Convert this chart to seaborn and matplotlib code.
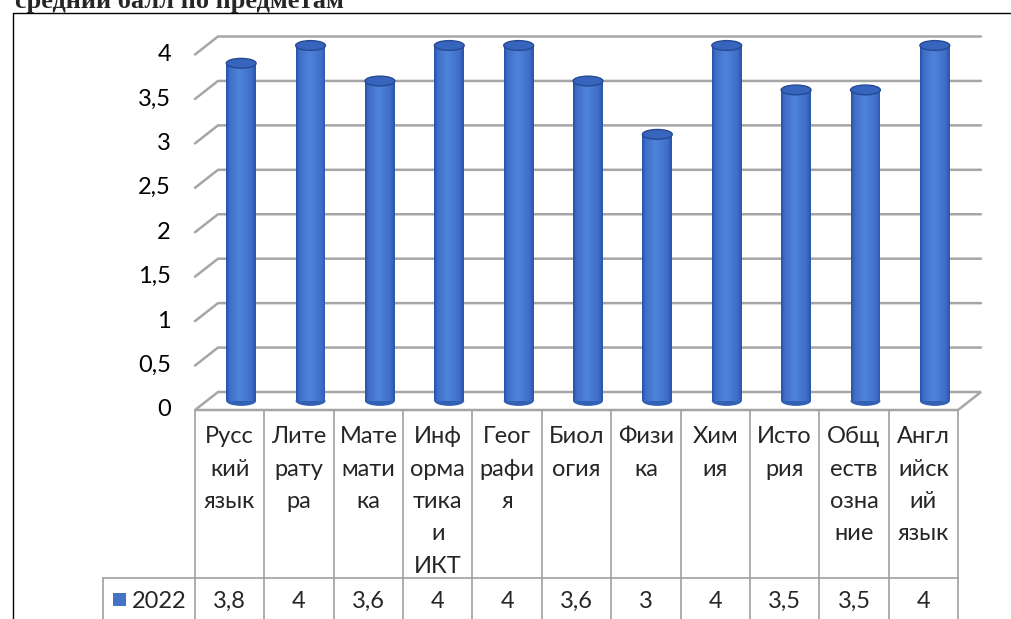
import numpy as np
import matplotlib
matplotlib.use("Agg")
import matplotlib.pyplot as plt
import seaborn as sns
from matplotlib.patches import Ellipse, Rectangle, Polygon
from matplotlib.transforms import ScaledTranslation
from matplotlib.colors import LinearSegmentedColormap

# ---------------------------------------------------------------------
# data
# ---------------------------------------------------------------------
subjects = ["Русский язык", "Литература", "Математика", "Информатика и ИКТ",
            "География", "Биология", "Физика", "Химия", "История",
            "Обществознание", "Английский язык"]
subject_lines = [["Русс", "кий", "язык"], ["Лите", "рату", "ра"],
                 ["Мате", "мати", "ка"], ["Инф", "орма", "тика", "и", "ИКТ"],
                 ["Геог", "рафи", "я"], ["Биол", "огия"], ["Физи", "ка"],
                 ["Хим", "ия"], ["Исто", "рия"], ["Общ", "еств", "озна", "ние"],
                 ["Англ", "ийск", "ий", "язык"]]
scores_2022 = [3.8, 4, 3.6, 4, 4, 3.6, 3, 4, 3.5, 3.5, 4]
y_ticks = [0, 0.5, 1, 1.5, 2, 2.5, 3, 3.5, 4]
series_name = "2022"
title = "средний балл по предметам"

W, H = 1011, 619
sns.set_theme(style="white")
plt.rcParams['font.family'] = ['Lato', 'DejaVu Sans']
FS = 17

fig = plt.figure(figsize=(W / 100, H / 100), dpi=100)
fig.patch.set_facecolor("white")

# overlay in pixel coordinates for frame, table, labels
ov = fig.add_axes([0, 0, 1, 1], zorder=0)
ov.set_xlim(0, W)
ov.set_ylim(H, 0)
ov.axis("off")

# main (mid-depth) plotting axes
left_px, right_px, y0_px, y4_px = 206.5, 969.5, 401, 45.5
ax = fig.add_axes([left_px / W, 1 - y0_px / H, (right_px - left_px) / W, (y0_px - y4_px) / H],
                  zorder=2)
ax.patch.set_alpha(0)

sns.barplot(x=subjects, y=scores_2022, ax=ax, width=0.43, color="#4472c4",
            saturation=1, zorder=3)
ax.set_xlim(-0.5, len(subjects) - 0.5)
ax.set_ylim(0, 4)
ax.axis("off")

dx, dy = 11.5, 9.0   # depth offset (px) from mid plane to back plane
back = ax.transData + ScaledTranslation(dx / 100, dy / 100, fig.dpi_scale_trans)
front = ax.transData + ScaledTranslation(-dx / 100, -dy / 100, fig.dpi_scale_trans)


def to_px(tr, x, y):
    px, py = tr.transform((x, y))
    return px, H - py


grid_c = "#a6a6a6"
xl, xr = -0.5, len(subjects) - 0.5

# floor
fl = [to_px(front, xl, 0), to_px(front, xr, 0), to_px(back, xr, 0), to_px(back, xl, 0)]
ov.add_patch(Polygon(fl, closed=True, facecolor="white", edgecolor=grid_c, lw=1.8, zorder=1))

# back wall grid lines + left wall diagonals
for t in y_ticks[1:]:
    bl, br, fL = to_px(back, xl, t), to_px(back, xr, t), to_px(front, xl, t)
    ov.plot([fL[0], bl[0], br[0]], [fL[1], bl[1], br[1]], color=grid_c, lw=1.8, zorder=1)

# y tick labels (front plane)
for t in y_ticks:
    px, py = to_px(front, xl, t)
    lab = f"{t:g}".replace(".", ",")
    ov.text(171, py, lab, ha="right", va="center", fontsize=FS, color="black", zorder=5)

# cylinders: gradient body + elliptic caps
grad = np.linspace(0, 1, 256)
shade = np.interp(grad, [0, 0.12, 0.45, 0.85, 1], [0.1, 0.5, 1.0, 0.5, 0.15])
cyl_cmap = LinearSegmentedColormap.from_list("cyl", ["#22489a", "#3f6ec8", "#4f84da"])
cap_h = 0.11
for p in ax.patches[:]:
    x, w, h = p.get_x(), p.get_width(), p.get_height()
    p.set_facecolor("none")
    p.set_edgecolor("none")
    im = ax.imshow(shade[np.newaxis, :], cmap=cyl_cmap, vmin=0, vmax=1,
                   extent=(x, x + w, -cap_h / 2, h), aspect="auto", zorder=3,
                   interpolation="bicubic")
    body = Polygon([(x, h), (x + w, h), (x + w, 0), (x, 0)], closed=True,
                   transform=ax.transData)
    im.set_clip_path(body)
    # rounded bottom
    ax.add_patch(Ellipse((x + w / 2, 0), w, cap_h, facecolor="#3160b4",
                         edgecolor="none", zorder=2.95, clip_on=False))
    # top cap
    ax.add_patch(Ellipse((x + w / 2, h), w, cap_h, facecolor="#3764bc",
                         edgecolor="#264a92", lw=1.0, zorder=4, clip_on=False))
ax.set_xlim(-0.5, len(subjects) - 0.5)
ax.set_ylim(0, 4)

# data table below the chart
tab_c = "#a0a0a0"
row_top = to_px(front, xl, 0)[1]
row_mid = 578
col_edges = [to_px(front, xl + i, 0)[0] for i in range(len(subjects) + 1)]
for cx in col_edges:
    ov.plot([cx, cx], [row_top, H + 2], color=tab_c, lw=1.2, zorder=1)
ov.plot([103, col_edges[-1]], [row_mid, row_mid], color=tab_c, lw=1.2, zorder=1)
ov.plot([103, 103], [row_mid, H + 2], color=tab_c, lw=1.2, zorder=1)

for i, lines in enumerate(subject_lines):
    cx = (col_edges[i] + col_edges[i + 1]) / 2
    for j, ln in enumerate(lines):
        ov.text(cx, 443 + j * 32.5, ln, ha="center", va="baseline", fontsize=FS, zorder=5)
    ov.text(cx, 608, f"{scores_2022[i]:g}".replace(".", ","), ha="center",
            va="baseline", fontsize=FS, zorder=5)

ov.add_patch(Rectangle((113, 593), 13, 13, facecolor="#4472c4", edgecolor="none", zorder=5))
ov.text(132, 608, series_name, ha="left", va="baseline", fontsize=FS, zorder=5)

# outer frame and clipped title
ov.plot([12.5, 12.5, W - 1.5], [H + 2, 12.5, 12.5], color="black", lw=1.0, zorder=6)
fig.text(15 / W, 1 - 8 / H, title, ha="left", va="baseline", fontsize=19,
         fontweight="bold", family=["Liberation Serif", "DejaVu Serif"])

fig.savefig("out.png", dpi=100)
